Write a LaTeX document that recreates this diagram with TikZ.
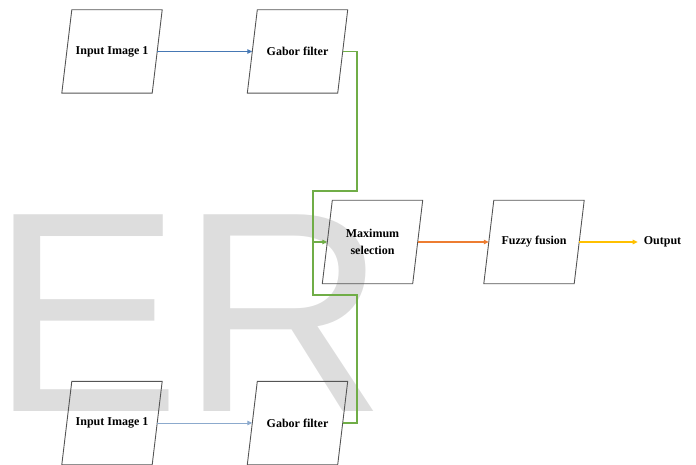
\documentclass[tikz,border=0pt]{standalone}
\usepackage{fontspec}
\setmainfont{Liberation Serif}
\newfontfamily\wmfont{Liberation Sans}
\usetikzlibrary{arrows.meta}
\definecolor{wmgray}{RGB}{221,221,221}
\definecolor{boxline}{RGB}{85,85,85}
\definecolor{bluea}{RGB}{70,120,180}
\definecolor{blueb}{RGB}{140,170,205}
\definecolor{greenl}{RGB}{112,173,71}
\definecolor{orangel}{RGB}{237,125,49}
\definecolor{yellowl}{RGB}{255,192,0}
\tikzset{
  pbox/.style={minimum width=90pt, minimum height=83pt, inner sep=0pt, align=center,
    font=\fontsize{12}{17}\selectfont\bfseries},
  conn/.style={line width=1.2pt, -{Triangle[length=5pt,width=4.5pt]}},
  plain/.style={line width=1.5pt}
}
\begin{document}
\begin{tikzpicture}[x=1pt,y=1pt]
\useasboundingbox (0,0) rectangle (696,-465);
% watermark
\node[anchor=base west, inner sep=0pt, text=wmgray, font=\wmfont\fontsize{286}{286}\selectfont] (wm) at (-10,-411) {ER};
% boxes
\node[pbox] (in1) at (112,-51.5) {Input Image 1};
\node[pbox] (g1) at (297.5,-51.5) {Gabor filter};
\node[pbox] (in2) at (112,-423) {Input Image 1};
\node[pbox] (g2) at (297.5,-423) {Gabor filter};
\node[pbox] (mx) at (372.5,-242) {Maximum\\selection};
\node[pbox] (fz) at (534,-242) {Fuzzy fusion};
\node[inner xsep=6pt, font=\fontsize{12}{14}\selectfont\bfseries] (out) at (662.5,-242) {Output};
\foreach \n in {in1,g1,in2,g2,mx,fz}
  \draw[boxline, line width=0.9pt] ([xshift=5pt]\n.north west) -- ([xshift=5pt]\n.north east)
     -- ([xshift=-5pt]\n.south east) -- ([xshift=-5pt]\n.south west) -- cycle;
% junction points
\coordinate (j1) at (357,-191);
\coordinate (j2) at (313,-191);
\coordinate (j3) at (313,-295);
\coordinate (j4) at (357,-295);
\coordinate (jm) at (313,-242);
% connectors
\draw[conn, bluea] (in1.east) -- (g1.west);
\draw[conn, blueb, line width=0.9pt] (in2.east) -- (g2.west);
\draw[plain, greenl] (g1.east) -| (j1) -- (j2) -- (j3) -- (j4) |- (g2.east);
\draw[conn, greenl] (jm) -- (mx.west);
\draw[conn, orangel] (mx.east) -- (fz.west);
\draw[conn, yellowl] (fz.east) -- (out.west);
\end{tikzpicture}
\end{document}
